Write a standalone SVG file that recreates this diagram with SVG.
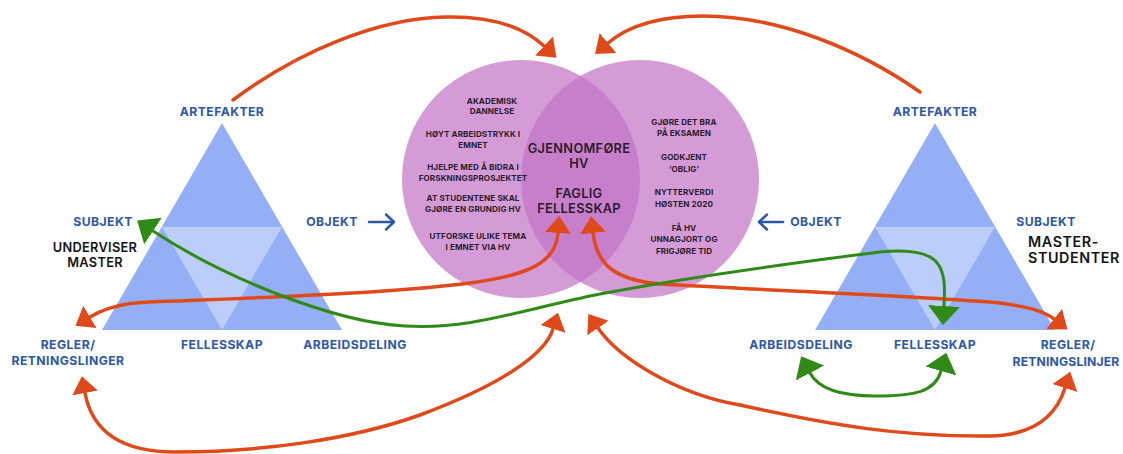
<svg xmlns="http://www.w3.org/2000/svg" width="1123" height="454" viewBox="0 0 1123 454">
  <defs>
    <style>
      .lbl { font-family: Inter, "Liberation Sans", sans-serif; font-weight: 700; font-size: 12.2px; letter-spacing: 0.45px; fill: #2d57a7; text-anchor: middle; }
      .who { font-family: Inter, "Liberation Sans", sans-serif; font-weight: 600; font-size: 12.8px; letter-spacing: 0.3px; fill: #141414; }
      .small { font-family: Inter, "Liberation Sans", sans-serif; font-weight: 700; font-size: 8.1px; letter-spacing: 0.1px; fill: #2a1b2c; text-anchor: middle; }
      .mid { font-family: Inter, "Liberation Sans", sans-serif; font-weight: 600; font-size: 12.8px; letter-spacing: 0.3px; fill: #2a1b2c; text-anchor: middle; }
      .outer { fill: #94aff5; }
      .inner { fill: #bccdf9; }
      .disc { fill: #c374c6; fill-opacity: 0.72; }
      .red { fill: none; stroke: #e04a1b; stroke-width: 3.5; stroke-linecap: round; }
      .green { fill: none; stroke: #2f8a17; stroke-width: 3; stroke-linecap: round; }
      .obj { fill: none; stroke: #2d57a7; stroke-width: 2.5; stroke-linecap: round; stroke-linejoin: round; }
    </style>
    <marker id="headRed" viewBox="0 0 17 26" refX="0" refY="13" markerWidth="17" markerHeight="26" markerUnits="userSpaceOnUse" orient="auto-start-reverse">
      <path d="M0,0 L17,13 L0,26 z" fill="#e04a1b"/>
    </marker>
    <marker id="headGreen" viewBox="0 0 19 32" refX="0" refY="16" markerWidth="19" markerHeight="32" markerUnits="userSpaceOnUse" orient="auto-start-reverse">
      <path d="M0,0 L19,16 L0,32 z" fill="#2f8a17"/>
    </marker>
  </defs>

  <rect width="1123" height="454" fill="#ffffff"/>

  <!-- left activity triangle -->
  <g id="triangle-left">
    <polygon class="outer" points="222,123 342,330 102,330"/>
    <polygon class="inner" points="162,227 282,227 222,330"/>
  </g>

  <!-- right activity triangle -->
  <g id="triangle-right">
    <polygon class="outer" points="935,123 1055,330 815,330"/>
    <polygon class="inner" points="875,227 995,227 935,330"/>
  </g>

  <!-- overlapping object circles -->
  <g id="venn">
    <circle class="disc" cx="521" cy="179" r="119"/>
    <circle class="disc" cx="640" cy="179" r="119"/>
  </g>

  <g id="object-teacher">
    <text class="small" x="492" y="104">AKADEMISK</text>
    <text class="small" x="492" y="114">DANNELSE</text>
    <text class="small" x="473" y="137">HØYT ARBEIDSTRYKK I</text>
    <text class="small" x="473" y="147.5">EMNET</text>
    <text class="small" x="473" y="170">HJELPE MED Å BIDRA I</text>
    <text class="small" x="473" y="180.5">FORSKNINGSPROSJEKTET</text>
    <text class="small" x="473" y="201">AT STUDENTENE SKAL</text>
    <text class="small" x="473" y="212">GJØRE EN GRUNDIG HV</text>
    <text class="small" x="478" y="239">UTFORSKE ULIKE TEMA</text>
    <text class="small" x="478" y="249.5">I EMNET VIA HV</text>
  </g>

  <g id="object-shared">
    <text class="mid" x="579" y="152.5">GJENNOMFØRE</text>
    <text class="mid" x="579" y="167.5">HV</text>
    <text class="mid" x="579" y="197.5">FAGLIG</text>
    <text class="mid" x="579" y="212.5">FELLESSKAP</text>
  </g>

  <g id="object-students">
    <text class="small" x="684" y="125">GJØRE DET BRA</text>
    <text class="small" x="684" y="136">PÅ EKSAMEN</text>
    <text class="small" x="684" y="160">GODKJENT</text>
    <text class="small" x="684" y="172">‘OBLIG’</text>
    <text class="small" x="684" y="195">NYTTERVERDI</text>
    <text class="small" x="684" y="206.5">HØSTEN 2020</text>
    <text class="small" x="684" y="230.5">FÅ HV</text>
    <text class="small" x="684" y="242">UNNAGJORT OG</text>
    <text class="small" x="684" y="254">FRIGJØRE TID</text>
  </g>

  <!-- left triangle labels -->
  <g id="labels-left">
    <text class="lbl" x="222" y="116">ARTEFAKTER</text>
    <text class="lbl" x="103" y="226">SUBJEKT</text>
    <text class="who" x="95" y="251.5" text-anchor="middle">UNDERVISER</text>
    <text class="who" x="95" y="266.5" text-anchor="middle">MASTER</text>
    <text class="lbl" x="332" y="226">OBJEKT</text>
    <text class="lbl" x="222" y="349">FELLESSKAP</text>
    <text class="lbl" x="355" y="349">ARBEIDSDELING</text>
    <text class="lbl" x="68" y="348.5">REGLER/</text>
    <text class="lbl" x="68" y="365">RETNINGSLINGER</text>
  </g>

  <!-- right triangle labels -->
  <g id="labels-right">
    <text class="lbl" x="935" y="116">ARTEFAKTER</text>
    <text class="lbl" x="1046" y="226">SUBJEKT</text>
    <text class="who" x="1028" y="247" style="font-size:14.3px;letter-spacing:0.6px">MASTER-</text>
    <text class="who" x="1028" y="263" style="font-size:14.3px;letter-spacing:0.6px">STUDENTER</text>
    <text class="lbl" x="816" y="226">OBJEKT</text>
    <text class="lbl" x="801" y="349">ARBEIDSDELING</text>
    <text class="lbl" x="935" y="349">FELLESSKAP</text>
    <text class="lbl" x="1068" y="349">REGLER/</text>
    <text class="lbl" x="1066" y="366" style="letter-spacing:0.15px">RETNINGSLINJER</text>
  </g>

  <!-- object pointers -->
  <g id="object-arrows">
    <path class="obj" d="M369,222 H394 M386,214.5 L394,222 L386,229.5"/>
    <path class="obj" d="M783,222 H759 M767,214.5 L759,222 L767,229.5"/>
  </g>

  <g id="connectors">
    <!-- top arcs from the artefacts into the shared object -->
    <path class="red" marker-end="url(#headRed)" d="M233,100 C300,50 380,18 446,17 C500,16 528,31 544,46"/>
    <path class="red" marker-end="url(#headRed)" d="M920,92 C860,50 780,16 703,16 C660,16 628,26 608,43"/>
    <!-- rules links through the object -->
    <path class="red" marker-start="url(#headRed)" marker-end="url(#headRed)" d="M90,317 C115,302 140,302 180,301 C300,296 400,292 470,283 C530,275 556,262 558,233"/>
    <path class="red" marker-start="url(#headRed)" marker-end="url(#headRed)" d="M593,233 C597,265 615,280 660,284 C760,290 900,295 990,302 C1030,306 1045,312 1054,319"/>
    <!-- lower rule arcs -->
    <path class="red" marker-start="url(#headRed)" marker-end="url(#headRed)" d="M85,393 C92,430 120,452 175,452 C260,452 350,440 420,415 C500,385 545,355 553,329"/>
    <path class="red" marker-start="url(#headRed)" marker-end="url(#headRed)" d="M598,328 C620,360 680,395 740,405 C830,425 900,437 990,436 C1040,435 1058,410 1065,388"/>
    <!-- subject to community -->
    <path class="green" marker-start="url(#headGreen)" marker-end="url(#headGreen)" d="M153,231 C220,275 330,322 405,326 C470,330 520,310 600,294 C700,275 800,262 880,252 C945,245 946,270 944,306"/>
    <path class="green" marker-start="url(#headGreen)" marker-end="url(#headGreen)" d="M810,373 C820,392 850,396 875,396 C915,396 935,392 941,371"/>
  </g>
</svg>
